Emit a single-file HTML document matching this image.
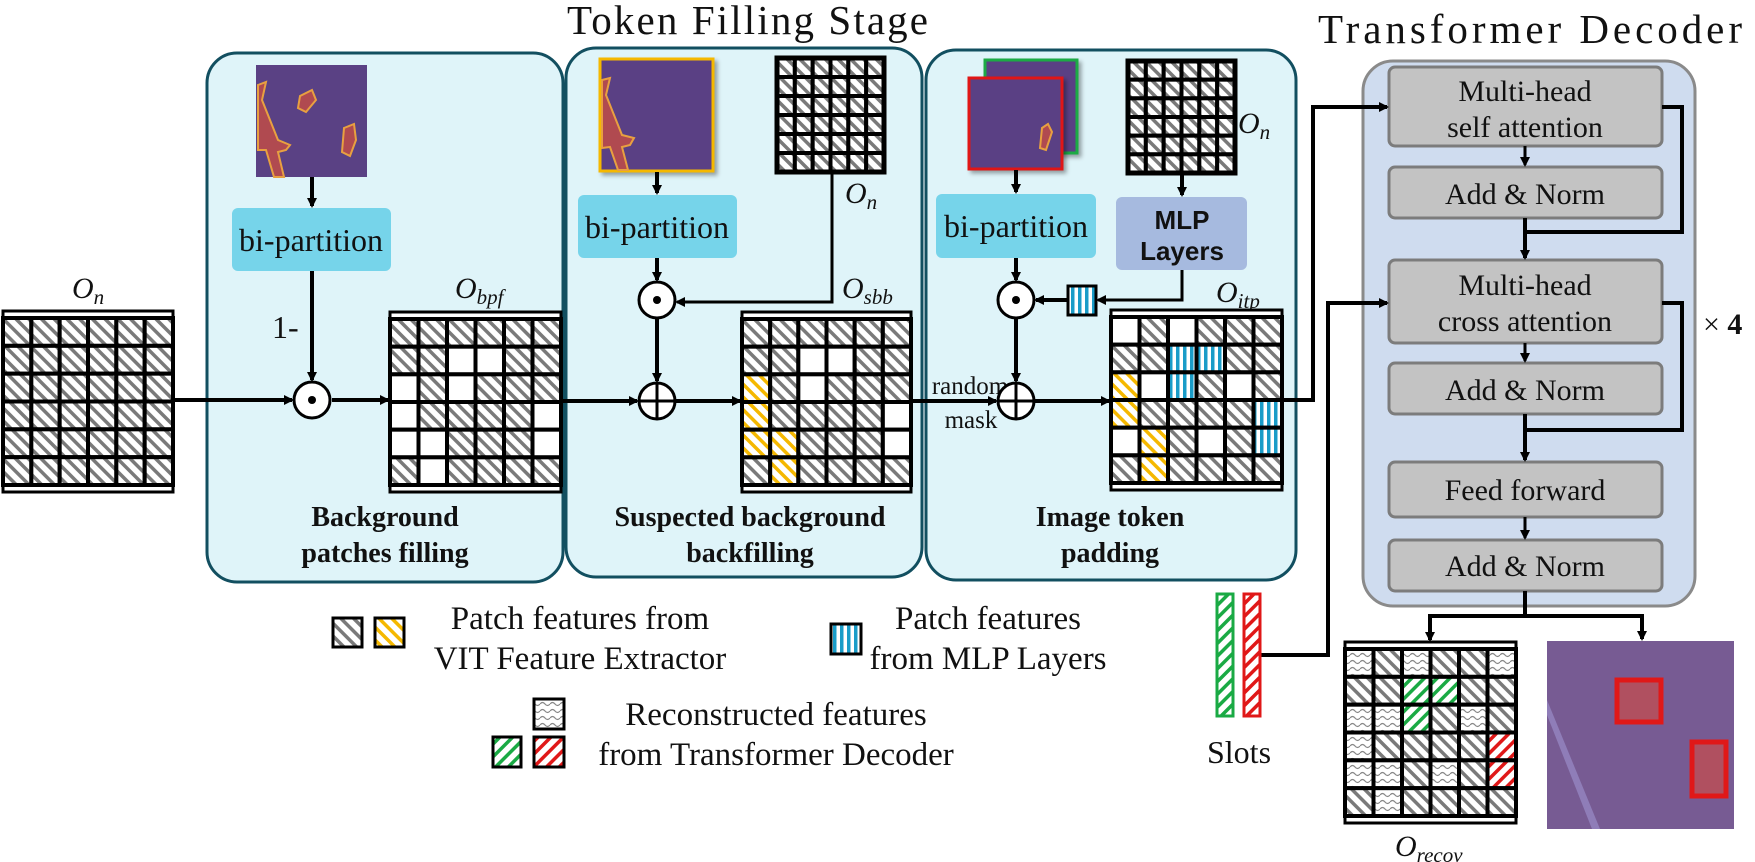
<!DOCTYPE html>
<html><head><meta charset="utf-8"><style>
html,body{margin:0;padding:0;background:#fff;}
svg{display:block;}
text{font-family:"Liberation Serif",serif;fill:#111;}
</style></head><body>
<svg id="s" width="1755" height="862" viewBox="0 0 1755 862" xmlns="http://www.w3.org/2000/svg">
<defs>
<pattern id="ph" width="9" height="9" patternUnits="userSpaceOnUse" patternTransform="rotate(-45)"><rect width="9" height="9" fill="#fff"/><rect width="3.5" height="9" fill="#7a7a7a"/></pattern>
<pattern id="py" width="9" height="9" patternUnits="userSpaceOnUse" patternTransform="rotate(-45)"><rect width="9" height="9" fill="#fff"/><rect width="3.5" height="9" fill="#f5b800"/></pattern>
<pattern id="pg" width="9" height="9" patternUnits="userSpaceOnUse" patternTransform="rotate(45)"><rect width="9" height="9" fill="#fff"/><rect width="3.5" height="9" fill="#1aaa44"/></pattern>
<pattern id="pr" width="9" height="9" patternUnits="userSpaceOnUse" patternTransform="rotate(45)"><rect width="9" height="9" fill="#fff"/><rect width="3.5" height="9" fill="#e01818"/></pattern>
<pattern id="pb" width="7" height="7" patternUnits="userSpaceOnUse"><rect width="7" height="7" fill="#fff"/><rect width="3.5" height="7" fill="#1a9cc8"/></pattern>
<pattern id="pw" width="10" height="7" patternUnits="userSpaceOnUse"><rect width="10" height="7" fill="#fff"/><path d="M0 4 Q2.5 1 5 4 T10 4" fill="none" stroke="#888" stroke-width="1.2"/></pattern>
<marker id="a" markerWidth="10" markerHeight="10" refX="8" refY="5" orient="auto" markerUnits="userSpaceOnUse"><path d="M0 0 L10 5 L0 10 z" fill="#000"/></marker>
<filter id="sh"><feDropShadow dx="3" dy="3" stdDeviation="2" flood-opacity="0.35"/></filter>
</defs>

<!-- titles -->
<text x="567" y="34" font-size="41" textLength="361">Token Filling Stage</text>
<text x="1318" y="43" font-size="41" textLength="424">Transformer Decoder</text>

<!-- panels -->
<rect x="207" y="53" width="356" height="529" rx="30" fill="#dff4f9" stroke="#124f60" stroke-width="3"/>
<rect x="566" y="48" width="356" height="529" rx="30" fill="#dff4f9" stroke="#124f60" stroke-width="3"/>
<rect x="926" y="50" width="370" height="530" rx="30" fill="#dff4f9" stroke="#124f60" stroke-width="3"/>

<!-- decoder -->
<rect x="1363" y="61" width="332" height="545" rx="30" fill="#cfdcef" stroke="#8a8a8a" stroke-width="3"/>
<g fill="#c3c3c3" stroke="#7c7c7c" stroke-width="3">
<rect x="1389" y="67" width="273" height="79" rx="6"/>
<rect x="1389" y="167" width="273" height="51" rx="6"/>
<rect x="1389" y="260" width="273" height="83" rx="6"/>
<rect x="1389" y="363" width="273" height="51" rx="6"/>
<rect x="1389" y="462" width="273" height="55" rx="6"/>
<rect x="1389" y="540" width="273" height="51" rx="6"/>
</g>
<g font-size="30" text-anchor="middle">
<text x="1525" y="101">Multi-head</text><text x="1525" y="137">self attention</text>
<text x="1525" y="204">Add &amp; Norm</text>
<text x="1525" y="295">Multi-head</text><text x="1525" y="331">cross attention</text>
<text x="1525" y="400">Add &amp; Norm</text>
<text x="1525" y="500">Feed forward</text>
<text x="1525" y="576">Add &amp; Norm</text>
</g>
<text x="1703" y="334" font-size="30">× <tspan font-weight="bold">4</tspan></text>
<g stroke="#000" stroke-width="4" fill="none">
<path d="M1525 146 V165" marker-end="url(#a)" stroke-width="3"/>
<path d="M1525 218 V258" marker-end="url(#a)"/>
<path d="M1662 107 H1682 V232 H1525"/>
<path d="M1525 343 V361" marker-end="url(#a)" stroke-width="3"/>
<path d="M1525 414 V460" marker-end="url(#a)"/>
<path d="M1662 303 H1682 V430 H1525"/>
<path d="M1525 517 V538" marker-end="url(#a)" stroke-width="3"/>
<path d="M1525 591 V616 H1430 V640" marker-end="url(#a)"/>
<path d="M1525 616 H1642 V639" marker-end="url(#a)"/>
<path d="M1282 400 H1313 V107 H1387" marker-end="url(#a)"/>
<path d="M1260 655 H1328 V303 H1387" marker-end="url(#a)"/>
</g>

<!-- panel1 -->
<g>
<rect x="256" y="65" width="111" height="112" fill="#5a4184"/>
<path d="M258 85 L266 82 L262 100 L270 120 L278 140 L290 145 L286 150 L278 152 L284 177 L274 177 L266 150 L258 150 Z" fill="#b04a50" stroke="#e8a040" stroke-width="2"/>
<path d="M300 96 L312 90 L316 100 L306 112 L298 108 Z" fill="#b04a50" stroke="#e8a040" stroke-width="2"/>
<path d="M344 128 L354 124 L356 140 L350 156 L342 152 Z" fill="#b04a50" stroke="#e8a040" stroke-width="2"/>
</g>
<rect x="232" y="208" width="159" height="63" rx="6" fill="#76d4ea"/>
<text x="311" y="251" font-size="32" text-anchor="middle">bi-partition</text>
<text x="272" y="338" font-size="32">1-</text>
<g stroke="#000" stroke-width="4" fill="none">
<path d="M312 177 V206" marker-end="url(#a)"/>
<path d="M312 271 V380" marker-end="url(#a)"/>
<path d="M173 400 H292" marker-end="url(#a)"/>
<path d="M332 400 H388" marker-end="url(#a)"/>
</g>
<text x="385" y="526" font-size="28" font-weight="bold" text-anchor="middle">Background</text>
<text x="385" y="562" font-size="28" font-weight="bold" text-anchor="middle">patches filling</text>

<!-- panel2 -->
<g filter="url(#sh)"><rect x="600" y="59" width="113" height="112" fill="#5a4184" stroke="#f5b800" stroke-width="3"/></g>
<path d="M602 80 L610 78 L606 95 L614 115 L622 135 L634 138 L630 145 L622 147 L628 170 L618 170 L610 147 L602 148 Z" fill="#b04a50" stroke="#e8a040" stroke-width="2"/>
<rect x="578" y="195" width="159" height="63" rx="6" fill="#76d4ea"/>
<text x="657" y="238" font-size="32" text-anchor="middle">bi-partition</text>
<g stroke="#000" stroke-width="4" fill="none">
<path d="M657 172 V193" marker-end="url(#a)"/>
<path d="M657 258 V280" marker-end="url(#a)"/>
<path d="M832 172 V302 H677" marker-end="url(#a)" stroke-width="3"/>
<path d="M657 318 V381" marker-end="url(#a)"/>
<path d="M561 401 H637" marker-end="url(#a)"/>
<path d="M675 401 H740" marker-end="url(#a)"/>
</g>
<text x="750" y="526" font-size="28" font-weight="bold" text-anchor="middle">Suspected background</text>
<text x="750" y="562" font-size="28" font-weight="bold" text-anchor="middle">backfilling</text>

<!-- panel3 -->
<g filter="url(#sh)"><rect x="985" y="60" width="92" height="93" fill="#5a4184" stroke="#1aaa44" stroke-width="3"/></g>
<g filter="url(#sh)"><rect x="969" y="78" width="93" height="91" fill="#5a4184" stroke="#e01818" stroke-width="3"/></g>
<path d="M1042 128 L1048 124 L1052 132 L1046 150 L1040 148 Z" fill="#b04a50" stroke="#e8a040" stroke-width="2"/>
<rect x="936" y="194" width="160" height="64" rx="6" fill="#76d4ea"/>
<text x="1016" y="237" font-size="32" text-anchor="middle">bi-partition</text>
<rect x="1116" y="197" width="131" height="73" rx="6" fill="#a6badf"/>
<text x="1182" y="229" font-size="26" font-weight="bold" text-anchor="middle" style="font-family:'Liberation Sans',sans-serif">MLP</text>
<text x="1182" y="260" font-size="26" font-weight="bold" text-anchor="middle" style="font-family:'Liberation Sans',sans-serif">Layers</text>
<rect x="1068" y="286" width="28" height="29" fill="url(#pb)" stroke="#000" stroke-width="3"/>
<g stroke="#000" stroke-width="4" fill="none">
<path d="M1016 170 V192" marker-end="url(#a)"/>
<path d="M1182 173 V195" marker-end="url(#a)"/>
<path d="M1016 258 V280" marker-end="url(#a)"/>
<path d="M1182 270 V300 H1098" marker-end="url(#a)" stroke-width="3"/>
<path d="M1068 300 H1036" marker-end="url(#a)"/>
<path d="M1016 318 V381" marker-end="url(#a)"/>
<path d="M911 401 H996" marker-end="url(#a)"/>
<path d="M1034 401 H1109" marker-end="url(#a)"/>
</g>
<text x="970" y="394" font-size="25" text-anchor="middle">random</text>
<text x="971" y="428" font-size="25" text-anchor="middle">mask</text>
<text x="1110" y="526" font-size="28" font-weight="bold" text-anchor="middle">Image token</text>
<text x="1110" y="562" font-size="28" font-weight="bold" text-anchor="middle">padding</text>

<!-- operator circles -->
<g fill="#fff" stroke="#000" stroke-width="3">
<circle cx="312" cy="400" r="18"/><circle cx="657" cy="300" r="18"/><circle cx="1016" cy="300" r="18"/>
<circle cx="657" cy="401" r="18"/><circle cx="1016" cy="401" r="18"/>
</g>
<g fill="#000"><circle cx="312" cy="400" r="4"/><circle cx="657" cy="300" r="4"/><circle cx="1016" cy="300" r="4"/></g>
<g stroke="#000" stroke-width="3"><path d="M639 401 H675 M657 383 V419 M998 401 H1034 M1016 383 V419"/></g>

<!-- labels -->
<g font-size="30" font-style="italic">
<text x="72" y="298">O<tspan font-size="21" dy="6">n</tspan></text>
<text x="455" y="298">O<tspan font-size="21" dy="6">bpf</tspan></text>
<text x="845" y="203">O<tspan font-size="21" dy="6">n</tspan></text>
<text x="842" y="298">O<tspan font-size="21" dy="6">sbb</tspan></text>
<text x="1238" y="133">O<tspan font-size="21" dy="6">n</tspan></text>
<text x="1216" y="302">O<tspan font-size="21" dy="6">itp</tspan></text>
<text x="1395" y="856">O<tspan font-size="21" dy="6">recov</tspan></text>
</g>

<!-- legend -->
<rect x="333" y="618" width="29" height="29" fill="url(#ph)" stroke="#000" stroke-width="3"/>
<rect x="375" y="618" width="29" height="29" fill="url(#py)" stroke="#000" stroke-width="3"/>
<text x="580" y="629" font-size="33" text-anchor="middle">Patch features from</text>
<text x="580" y="669" font-size="33" text-anchor="middle">VIT Feature Extractor</text>
<rect x="831" y="624" width="30" height="30" fill="url(#pb)" stroke="#000" stroke-width="3"/>
<text x="988" y="629" font-size="33" text-anchor="middle">Patch features</text>
<text x="988" y="669" font-size="33" text-anchor="middle">from MLP Layers</text>
<rect x="534" y="699" width="30" height="30" fill="url(#pw)" stroke="#000" stroke-width="3"/>
<rect x="493" y="737" width="28" height="30" fill="url(#pg)" stroke="#000" stroke-width="3"/>
<rect x="534" y="737" width="30" height="30" fill="url(#pr)" stroke="#000" stroke-width="3"/>
<text x="776" y="725" font-size="33" text-anchor="middle">Reconstructed features</text>
<text x="776" y="765" font-size="33" text-anchor="middle">from Transformer Decoder</text>

<!-- slots -->
<rect x="1217" y="594" width="16" height="122" fill="url(#pg)" stroke="#1aaa44" stroke-width="3"/>
<rect x="1244" y="594" width="16" height="122" fill="url(#pr)" stroke="#e01818" stroke-width="3"/>
<text x="1239" y="763" font-size="32" text-anchor="middle">Slots</text>

<!-- output image -->
<rect x="1547" y="641" width="187" height="188" fill="#775b93"/>
<path d="M1547 700 L1600 829 L1592 829 L1547 715 Z" fill="#9a8cc8" opacity="0.7"/>
<rect x="1617" y="680" width="44" height="42" fill="#b05060" stroke="#e01818" stroke-width="5"/>
<rect x="1692" y="742" width="34" height="54" fill="#b05060" stroke="#e01818" stroke-width="5"/>

<g id="grids"></g>
</svg>
<script>
var G=document.getElementById('grids'),NS='http://www.w3.org/2000/svg';
function el(t,a){var e=document.createElementNS(NS,t);for(var k in a)e.setAttribute(k,a[k]);G.appendChild(e);return e;}
var F={H:'url(#ph)',W:'#fff',Y:'url(#py)',B:'url(#pb)',G:'url(#pg)',R:'url(#pr)',V:'url(#pw)'};
function grid(x,y,w,h,rows,dbl,sw){
  var top=y,bot=y+h;
  if(dbl){el('rect',{x:x,y:y,width:w,height:h,fill:'#fff',stroke:'#000','stroke-width':3});top=y+7;bot=y+h-7;
    el('line',{x1:x,y1:top,x2:x+w,y2:top,stroke:'#000','stroke-width':3});el('line',{x1:x,y1:bot,x2:x+w,y2:bot,stroke:'#000','stroke-width':3});}
  var n=rows.length,m=rows[0].length,cw=w/m,ch=(bot-top)/n;
  for(var r=0;r<n;r++)for(var c=0;c<m;c++)
    el('rect',{x:x+c*cw,y:top+r*ch,width:cw,height:ch,fill:F[rows[r][c]],stroke:'#000','stroke-width':sw||4});
  if(!dbl)el('rect',{x:x,y:y,width:w,height:h,fill:'none',stroke:'#000','stroke-width':5});
}
var all=['HHHHHH','HHHHHH','HHHHHH','HHHHHH','HHHHHH','HHHHHH'];
grid(3,311,170,181,all,true);
grid(390,312,171,180,['HHHHHH','HHWWHH','WHWHHH','WHHHHW','WWHHHW','HWHHHH'],true);
grid(742,312,169,180,['HHHHHH','HHWWHH','YHWHHH','YHHHHW','YYHHHW','HYHHHH'],true);
grid(1111,310,171,180,['WHWHHH','HHBBHH','YWBHWH','YHHHHB','WYHWHB','HYHHHH'],true);
grid(777,58,107,114,all,false,4);
grid(1128,61,107,112,all,false,4);
grid(1345,642,171,181,['VHVHHV','HHGGHH','VVGHVH','VHHHHR','VVHVHR','HVHHHH'],true);
</script>
</body></html>
